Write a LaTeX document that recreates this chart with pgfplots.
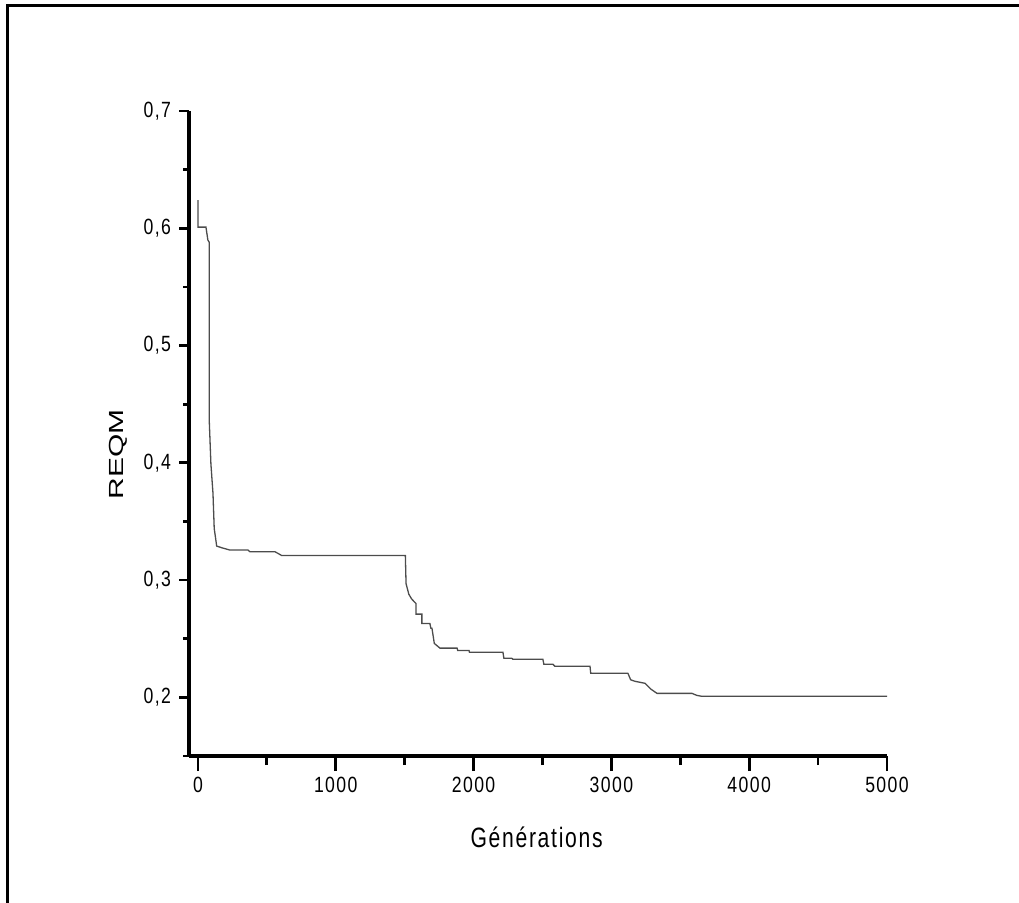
\documentclass[border=0pt]{standalone}
\usepackage{fontspec}
\setmainfont{Liberation Sans}
\newfontfamily\lsfont[LetterSpace=8]{Liberation Sans}
\usepackage{graphicx}
\usepackage{pgfplots}
\pgfplotsset{compat=1.18}
\newcommand\tk[1]{\scalebox{0.84}[1.05]{\fontsize{10.5}{12}\lsfont #1}}
\begin{document}
\begin{tikzpicture}
\useasboundingbox (0,0) rectangle (509.5pt,451pt);
\draw[line width=1.5pt, black] (3.5pt,-5pt) -- (3.5pt,448pt) -- (520pt,448pt);
\begin{axis}[
  at={(94.5pt,73pt)}, anchor=south west,
  scale only axis, width=349pt, height=322.5pt,
  xmin=-65, xmax=5000, ymin=0.15, ymax=0.7,
  axis x line=bottom, axis y line=left,
  axis line style={line width=1.8pt, -, black},
  xtick={0,1000,2000,3000,4000,5000},
  minor xtick={500,1500,2500,3500,4500},
  ytick={0.2,0.3,0.4,0.5,0.6,0.7},
  minor ytick={0.15,0.25,0.35,0.45,0.55,0.65},
  xticklabels={\tk{0},\tk{1000},\tk{2000},\tk{3000},\tk{4000},\tk{5000}},
  yticklabels={{\tk{0,2}},{\tk{0,3}},{\tk{0,4}},{\tk{0,5}},{\tk{0,6}},{\tk{0,7}}},
  tick align=outside,
  major tick length=4.8pt, minor tick length=2.8pt,
  xtick style={/pgfplots/major tick length=7.5pt, /pgfplots/minor tick length=4.5pt},
  tick style={black, line width=1.4pt},
  x tick label style={inner sep=0pt, yshift=-5.5pt},
  y tick label style={inner sep=0pt, xshift=-4pt},
  xlabel={\scalebox{0.755}[1]{\fontsize{14}{16}\lsfont Générations}},
  ylabel={\scalebox{1}[0.68]{\fontsize{15}{17}\selectfont REQM}},
  x label style={at={(axis description cs:0.498,-0.1256)}, anchor=center},
  y label style={at={(axis description cs:-0.1017,0.468)}, anchor=center},
  clip=false,
]
\addplot[black!70, line width=0.65pt] coordinates {
(0,0.624) (0,0.601) (58,0.601) (72,0.590) (82,0.588) (82,0.436) (94,0.399)
(109,0.374) (118,0.344) (136,0.329) (172,0.3276) (232,0.3256) (363,0.3256)
(377,0.3242) (559,0.3242) (607,0.3210) (1505,0.3210) (1510,0.297) (1530,0.288)
(1550,0.284) (1582,0.280) (1582,0.271) (1625,0.271) (1625,0.263) (1683,0.263)
(1690,0.259) (1698,0.259) (1715,0.246) (1756,0.242) (1880,0.242) (1885,0.240)
(1967,0.240) (1970,0.2385) (2213,0.2385) (2220,0.2333) (2278,0.2333) (2285,0.2325)
(2503,0.2325) (2510,0.2282) (2576,0.2282) (2590,0.2265) (2845,0.2265) (2850,0.2205)
(3120,0.2205) (3140,0.2150) (3171,0.2137) (3244,0.2120) (3287,0.2070) (3331,0.2034)
(3585,0.2034) (3620,0.2017) (3657,0.2009) (5000,0.2009)
};
\end{axis}
\end{tikzpicture}
\end{document}
